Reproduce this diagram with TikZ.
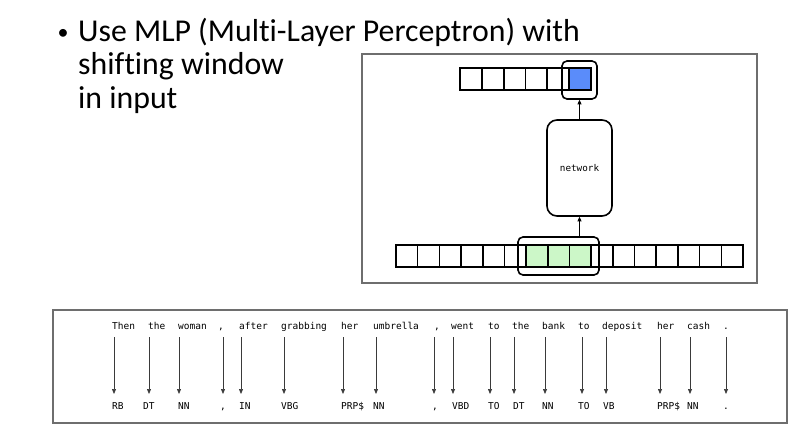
\documentclass[tikz,border=0pt]{standalone}
\usepackage{fontspec}
\setmainfont[Ligatures=NoCommon]{Carlito}
\newfontfamily\monofam{DejaVu Sans Mono}
\usetikzlibrary{arrows.meta}
\definecolor{boxgray}{HTML}{6E6E6E}
\definecolor{cellblue}{HTML}{5A8CFA}
\definecolor{cellgreen}{HTML}{CCF7C8}
\definecolor{arrgray}{HTML}{3A3A3A}
\begin{document}
\begin{tikzpicture}[x=1pt,y=-1pt,
  frame/.style={draw=boxgray,line width=1.3pt},
  cell/.style={draw=black,line width=1.6pt,minimum width=21.7pt,minimum height=21.5pt,inner sep=0pt,outer sep=0pt},
  win/.style={draw=black,line width=1.6pt,rounded corners=5pt,inner sep=0pt},
  netbox/.style={draw=black,line width=1.6pt,rounded corners=10pt,minimum width=65pt,minimum height=96pt,inner sep=0pt,font=\monofam\fontsize{9.3}{11}\selectfont},
  arr/.style={draw=black,line width=0.8pt,-{Triangle[length=4.5pt,width=4pt]}},
  darr/.style={draw=arrgray,line width=0.7pt,-{Triangle[length=5pt,width=4pt]}},
  word/.style={font=\monofam\fontsize{9.5}{11}\selectfont,inner sep=0pt,anchor=base west},
  title/.style={font=\fontsize{31.8}{38}\selectfont,inner sep=0pt,anchor=base west}
]
\useasboundingbox (0,0) rectangle (801,436);
% title
\node[font=\fontsize{22}{26}\selectfont,inner sep=0pt] (bul) at (63,34) {•};
\node[title] (l1) at (78,42) {Use MLP (Multi-Layer Perceptron) with};
\node[title] (l2) at (78,75) {shifting window};
\node[title] (l3) at (78,109) {in input};
% upper frame
\draw[frame] (362,54) rectangle (757,283);
% output row
\foreach \i in {1,...,6}{
  \node[cell] (o\i) at ({460+21.83*(\i-0.5)},79) {};
}
\node[cell,fill=cellblue] at (o6) {};
\node[win,minimum width=35pt,minimum height=38pt] (bwin) at (579.5,80) {};
% network
\node[netbox] (net) at (579.5,168) {network};
% input row
\foreach \i in {1,...,16}{
  \node[cell] (c\i) at ({396+21.69*(\i-0.5)},256) {};
}
\foreach \i in {7,8,9}{ \node[cell,fill=cellgreen] at (c\i) {}; }
\node[win,minimum width=81pt,minimum height=38pt] (gwin) at (558.5,256) {};
\draw[arr] (net.south |- gwin.north) -- (net.south);
\draw[arr] (net.north) -- (net.north |- bwin.south);
% lower frame
\draw[frame] (53,310) rectangle (787,423);
\foreach \w/\wx/\ax/\t/\tx [count=\i] in {
  Then/112/114/RB/112,
  the/148/149/DT/143,
  woman/178/179/NN/178,
  {,}/218/223/{,}/220,
  after/239/241/IN/239,
  grabbing/281/284/VBG/281,
  her/341/343/PRP\$/341,
  umbrella/373/376/NN/373,
  {,}/434/434/{,}/432,
  went/451/453/VBD/452,
  to/488/490/TO/488,
  the/512/514/DT/513,
  bank/542/545/NN/542,
  to/578/582/TO/578,
  deposit/602/606/VB/603,
  her/657/660/PRP\$/657,
  cash/687/690/NN/687,
  ./723/726/./723}{
  \node[word] (w\i) at (\wx,329) {\w};
  \node[word] (t\i) at (\tx,409) {\t};
  \coordinate (s\i) at (\ax,337);
  \coordinate (e\i) at (\ax,394);
  \draw[darr] (s\i) -- (e\i);
}
\end{tikzpicture}
\end{document}
